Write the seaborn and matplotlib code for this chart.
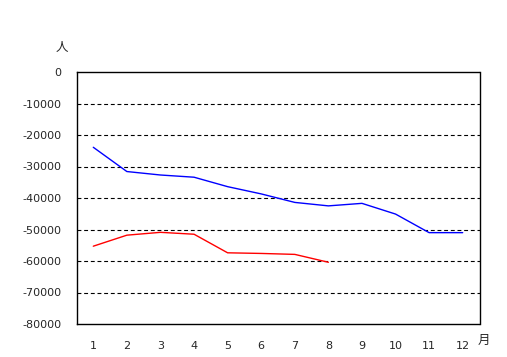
import matplotlib
matplotlib.use("Agg")
import matplotlib.pyplot as plt
import seaborn as sns
import pandas as pd
import numpy as np

months = list(range(1, 13))
blue_vals = [-23900, -31600, -32700, -33400, -36400, -38700, -41400, -42500, -41700, -45100, -51000, -51000]
red_months = list(range(1, 9))
red_vals = [-55300, -51800, -50900, -51500, -57400, -57600, -57900, -60400]
y_ticks = [0, -10000, -20000, -30000, -40000, -50000, -60000, -70000, -80000]

sns.set_style("white")
plt.rcParams['font.family'] = ['DejaVu Sans', 'Noto Sans CJK JP']
plt.rcParams['axes.unicode_minus'] = True

df = pd.concat([
    pd.DataFrame({"month": months, "value": blue_vals, "series": "A"}),
    pd.DataFrame({"month": red_months, "value": red_vals, "series": "B"}),
])

fig = plt.figure(figsize=(5.07, 3.57), dpi=100)
ax = fig.add_axes([76.5/507, (357-324)/357, (479.5-76.5)/507, (324-72)/357])

sns.lineplot(data=df, x="month", y="value", hue="series",
             palette={"A": "#0000ff", "B": "#ff0000"}, linewidth=1.0,
             legend=False, ax=ax, estimator=None, sort=False)

ax.set_xlim(0.5, 12.5)
ax.set_ylim(-80000, 0)
ax.set_yticks(y_ticks)
ax.set_yticklabels([str(v) for v in y_ticks], fontsize=8)
ax.set_xticks(months)
ax.set_xticklabels([str(m) for m in months], fontsize=8)
ax.set_xticks(np.arange(1.5, 12.5, 1), minor=True)
ax.tick_params(axis='x', which='major', length=0, pad=12)
ax.tick_params(axis='x', which='minor', direction='in', length=3, width=0.8, color='black')
ax.tick_params(axis='y', length=0, pad=11)
ax.set_xlabel("")
ax.set_ylabel("")

for v in y_ticks[1:-1]:
    ax.axhline(v, color='black', linewidth=0.8, linestyle=(0, (3.5, 2.5)), zorder=0)

for s in ax.spines.values():
    s.set_visible(True)
    s.set_color('black')
    s.set_linewidth(1.0)

fig.text(62/507, 1 - 48/357, "人", fontsize=9, ha='center', va='center',
         family=['Noto Sans CJK JP'])
fig.text(484/507, 1 - 340/357, "月", fontsize=9, ha='center', va='center',
         family=['Noto Sans CJK JP'])

fig.savefig("out.png", dpi=100)
